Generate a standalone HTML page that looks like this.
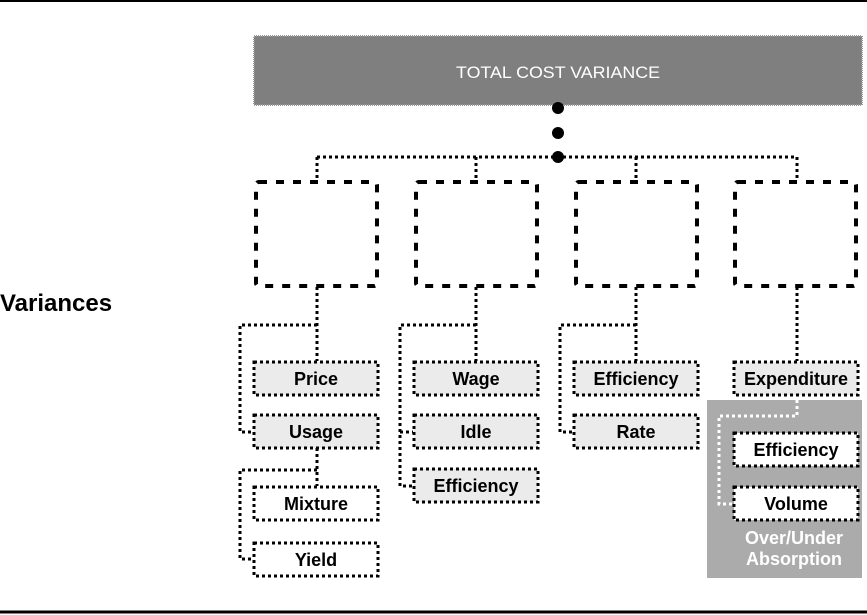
<!DOCTYPE html>
<html><head><style>
html,body{margin:0;padding:0;background:#fff;}
svg{display:block;}
text{font-family:"Liberation Sans",sans-serif;font-weight:bold;}
</style></head><body>
<svg width="867" height="615" viewBox="0 0 867 615" xmlns="http://www.w3.org/2000/svg">
<line x1="0" y1="1" x2="867" y2="1" stroke="#000" stroke-width="2"/>
<line x1="0" y1="612" x2="867" y2="612" stroke="#000" stroke-width="3"/>
<text x="0" y="311" font-size="24" fill="#000">Variances</text>
<rect x="254" y="36" width="608" height="69" fill="#7f7f7f" stroke="#999" stroke-width="2" stroke-dasharray="1 1"/>
<text x="558" y="78" font-size="17" fill="#fff" text-anchor="middle" style="font-weight:normal" textLength="204" lengthAdjust="spacingAndGlyphs">TOTAL COST VARIANCE</text>
<g fill="#000"><circle cx="558" cy="108" r="6"/><circle cx="558" cy="133" r="6"/><circle cx="558" cy="157" r="6"/></g>
<g fill="none" stroke="#000" stroke-width="3" stroke-dasharray="3 3">
<path d="M317 157H797M317 157V180M476 157V180M636 157V180M797 157V180"/>
<path d="M317 287V361M317 325H240V432H253"/>
<path d="M317 448V486M317 470H240V559H253"/>
<path d="M476 287V361M476 325H400V486H413M400 432H413"/>
<path d="M636 287V361M636 325H560V432H573"/>
<path d="M797 287V361"/>
</g>
<g fill="none" stroke="#000" stroke-width="4" stroke-dasharray="8 9">
<rect x="256" y="182" width="121" height="104" rx="3"/>
<rect x="416" y="182" width="121" height="104" rx="3"/>
<rect x="576" y="182" width="121" height="104" rx="3"/>
<rect x="735" y="182" width="121" height="104" rx="3"/>
</g>
<rect x="707" y="400" width="155" height="178" fill="#ababab"/>
<path d="M797 400V416H719V504H733" fill="none" stroke="#fff" stroke-width="3" stroke-dasharray="3 3"/>
<g stroke="#000" stroke-width="3" stroke-dasharray="3 3">
<rect x="254" y="362" width="124" height="33" fill="#ebebeb"/>
<rect x="254" y="415" width="124" height="33" fill="#ebebeb"/>
<rect x="254" y="487" width="124" height="33" fill="#fff"/>
<rect x="254" y="543" width="124" height="33" fill="#fff"/>
<rect x="414" y="362" width="124" height="33" fill="#ebebeb"/>
<rect x="414" y="415" width="124" height="33" fill="#ebebeb"/>
<rect x="414" y="469" width="124" height="33" fill="#ebebeb"/>
<rect x="574" y="362" width="124" height="33" fill="#ebebeb"/>
<rect x="574" y="415" width="124" height="33" fill="#ebebeb"/>
<rect x="734" y="362" width="124" height="33" fill="#ebebeb"/>
<rect x="734" y="433" width="124" height="33" fill="#fff"/>
<rect x="734" y="487" width="124" height="33" fill="#fff"/>
</g>
<g font-size="18" fill="#000" text-anchor="middle">
<text x="316" y="385">Price</text>
<text x="316" y="438">Usage</text>
<text x="316" y="510">Mixture</text>
<text x="316" y="566">Yield</text>
<text x="476" y="385">Wage</text>
<text x="476" y="438">Idle</text>
<text x="476" y="492">Efficiency</text>
<text x="636" y="385">Efficiency</text>
<text x="636" y="438">Rate</text>
<text x="796" y="385">Expenditure</text>
<text x="796" y="456">Efficiency</text>
<text x="796" y="510">Volume</text>
</g>
<g font-size="18" fill="#fff" text-anchor="middle">
<text x="794" y="544">Over/Under</text>
<text x="794" y="565">Absorption</text>
</g>
</svg>
</body></html>
